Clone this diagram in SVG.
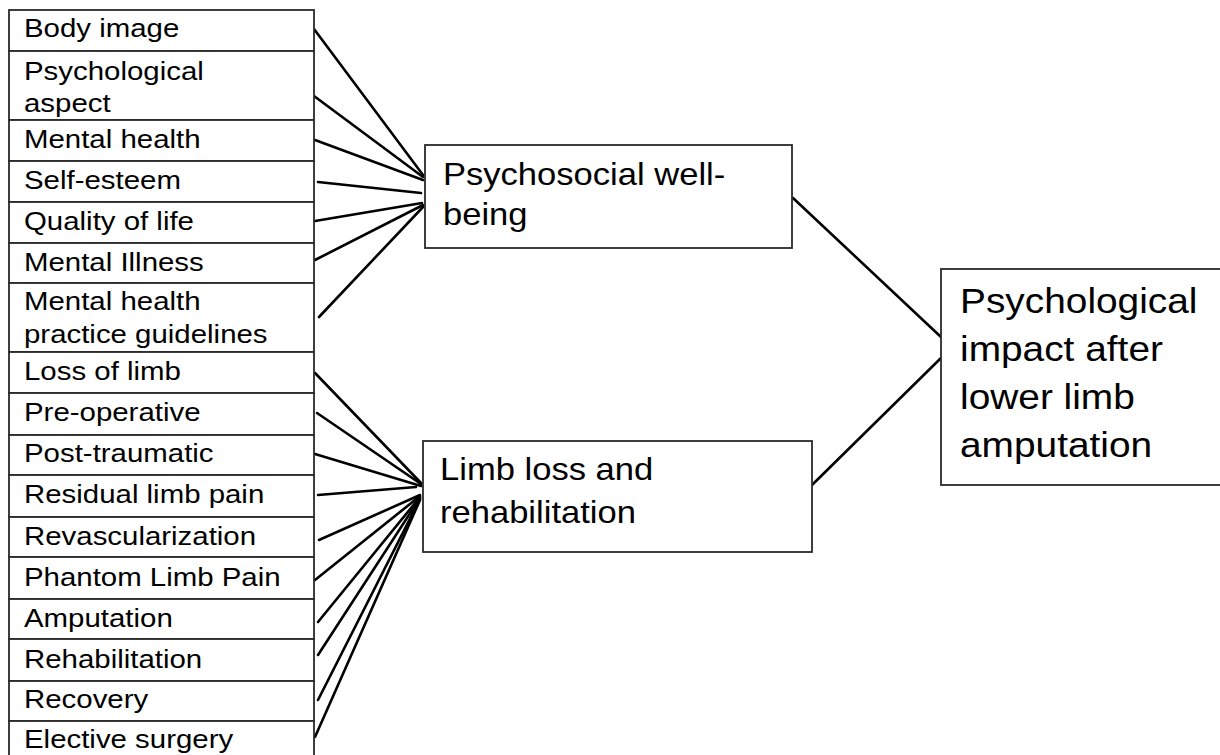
<svg xmlns="http://www.w3.org/2000/svg" width="1220" height="755" viewBox="0 0 1220 755">
<style>
.bx{fill:#fff;stroke:#2a2a2a;stroke-width:1.8}
.t{font-family:"Liberation Sans",Arial,sans-serif;fill:#000}
.s{font-size:26.5px}
.m{font-size:32px}
.l{font-size:35px}
.c line{stroke:#000;stroke-width:2.6;stroke-linecap:round}
</style>
<rect width="1220" height="755" fill="#fff"/>
<g id="connectors" class="c">
<line x1="314" y1="29" x2="423" y2="175"/>
<line x1="314" y1="96" x2="423" y2="177"/>
<line x1="315" y1="140" x2="423" y2="180"/>
<line x1="318" y1="182" x2="421" y2="193"/>
<line x1="315" y1="221" x2="422" y2="203"/>
<line x1="315" y1="260" x2="423" y2="205"/>
<line x1="319" y1="317" x2="423" y2="207"/>
<line x1="315" y1="373" x2="421" y2="483"/>
<line x1="317" y1="413" x2="421" y2="484"/>
<line x1="315" y1="454" x2="421" y2="486"/>
<line x1="318" y1="495" x2="416" y2="487"/>
<line x1="319" y1="540" x2="420" y2="495"/>
<line x1="315" y1="580" x2="420" y2="496"/>
<line x1="318" y1="622" x2="420" y2="497"/>
<line x1="318" y1="655" x2="420" y2="498"/>
<line x1="318" y1="700" x2="420" y2="499"/>
<line x1="315" y1="737" x2="420" y2="500"/>
<line x1="793" y1="198" x2="941" y2="337"/>
<line x1="812" y1="485" x2="941" y2="358"/>
</g>
<g id="list">
<g id="n1"><rect class="bx" x="9" y="10" width="305" height="41"/><text class="t s" transform="translate(24,37) scale(1.11,1)">Body image</text></g>
<g id="n2"><rect class="bx" x="9" y="51" width="305" height="69"/><text class="t s" transform="translate(24,80) scale(1.11,1)"><tspan x="0" y="0">Psychological</tspan><tspan x="0" y="32">aspect</tspan></text></g>
<g id="n3"><rect class="bx" x="9" y="120" width="305" height="41"/><text class="t s" transform="translate(24,148) scale(1.11,1)">Mental health</text></g>
<g id="n4"><rect class="bx" x="9" y="161" width="305" height="41"/><text class="t s" transform="translate(24,189) scale(1.11,1)">Self-esteem</text></g>
<g id="n5"><rect class="bx" x="9" y="202" width="305" height="41"/><text class="t s" transform="translate(24,230) scale(1.11,1)">Quality of life</text></g>
<g id="n6"><rect class="bx" x="9" y="243" width="305" height="40"/><text class="t s" transform="translate(24,271) scale(1.11,1)">Mental Illness</text></g>
<g id="n7"><rect class="bx" x="9" y="283" width="305" height="69"/><text class="t s" transform="translate(24,310) scale(1.11,1)"><tspan x="0" y="0">Mental health</tspan><tspan x="0" y="33">practice guidelines</tspan></text></g>
<g id="n8"><rect class="bx" x="9" y="352" width="305" height="41"/><text class="t s" transform="translate(24,380) scale(1.11,1)">Loss of limb</text></g>
<g id="n9"><rect class="bx" x="9" y="393" width="305" height="42"/><text class="t s" transform="translate(24,421) scale(1.11,1)">Pre-operative</text></g>
<g id="n10"><rect class="bx" x="9" y="435" width="305" height="40"/><text class="t s" transform="translate(24,462) scale(1.11,1)">Post-traumatic</text></g>
<g id="n11"><rect class="bx" x="9" y="475" width="305" height="42"/><text class="t s" transform="translate(24,503) scale(1.11,1)">Residual limb pain</text></g>
<g id="n12"><rect class="bx" x="9" y="517" width="305" height="40"/><text class="t s" transform="translate(24,545) scale(1.11,1)">Revascularization</text></g>
<g id="n13"><rect class="bx" x="9" y="557" width="305" height="42"/><text class="t s" transform="translate(24,586) scale(1.11,1)">Phantom Limb Pain</text></g>
<g id="n14"><rect class="bx" x="9" y="599" width="305" height="40"/><text class="t s" transform="translate(24,627) scale(1.11,1)">Amputation</text></g>
<g id="n15"><rect class="bx" x="9" y="639" width="305" height="42"/><text class="t s" transform="translate(24,668) scale(1.11,1)">Rehabilitation</text></g>
<g id="n16"><rect class="bx" x="9" y="681" width="305" height="40"/><text class="t s" transform="translate(24,708) scale(1.11,1)">Recovery</text></g>
<g id="n17"><rect class="bx" x="9" y="721" width="305" height="45"/><text class="t s" transform="translate(24,748) scale(1.11,1)">Elective surgery</text></g>
</g>
<g id="psychosocial"><rect class="bx" x="425" y="145" width="367" height="103"/><text class="t m" transform="translate(443,185) scale(1.08,1)"><tspan x="0" y="0">Psychosocial well-</tspan><tspan x="0" y="40">being</tspan></text></g>
<g id="limbloss"><rect class="bx" x="423" y="441" width="389" height="111"/><text class="t m" transform="translate(440,480) scale(1.08,1)"><tspan x="0" y="0">Limb loss and</tspan><tspan x="0" y="43">rehabilitation</tspan></text></g>
<g id="impact"><rect class="bx" x="941" y="269" width="290" height="216"/><text class="t l" transform="translate(960,313) scale(1.11,1)"><tspan x="0" y="0">Psychological</tspan><tspan x="0" y="48">impact after</tspan><tspan x="0" y="96">lower limb</tspan><tspan x="0" y="144">amputation</tspan></text></g>
</svg>
